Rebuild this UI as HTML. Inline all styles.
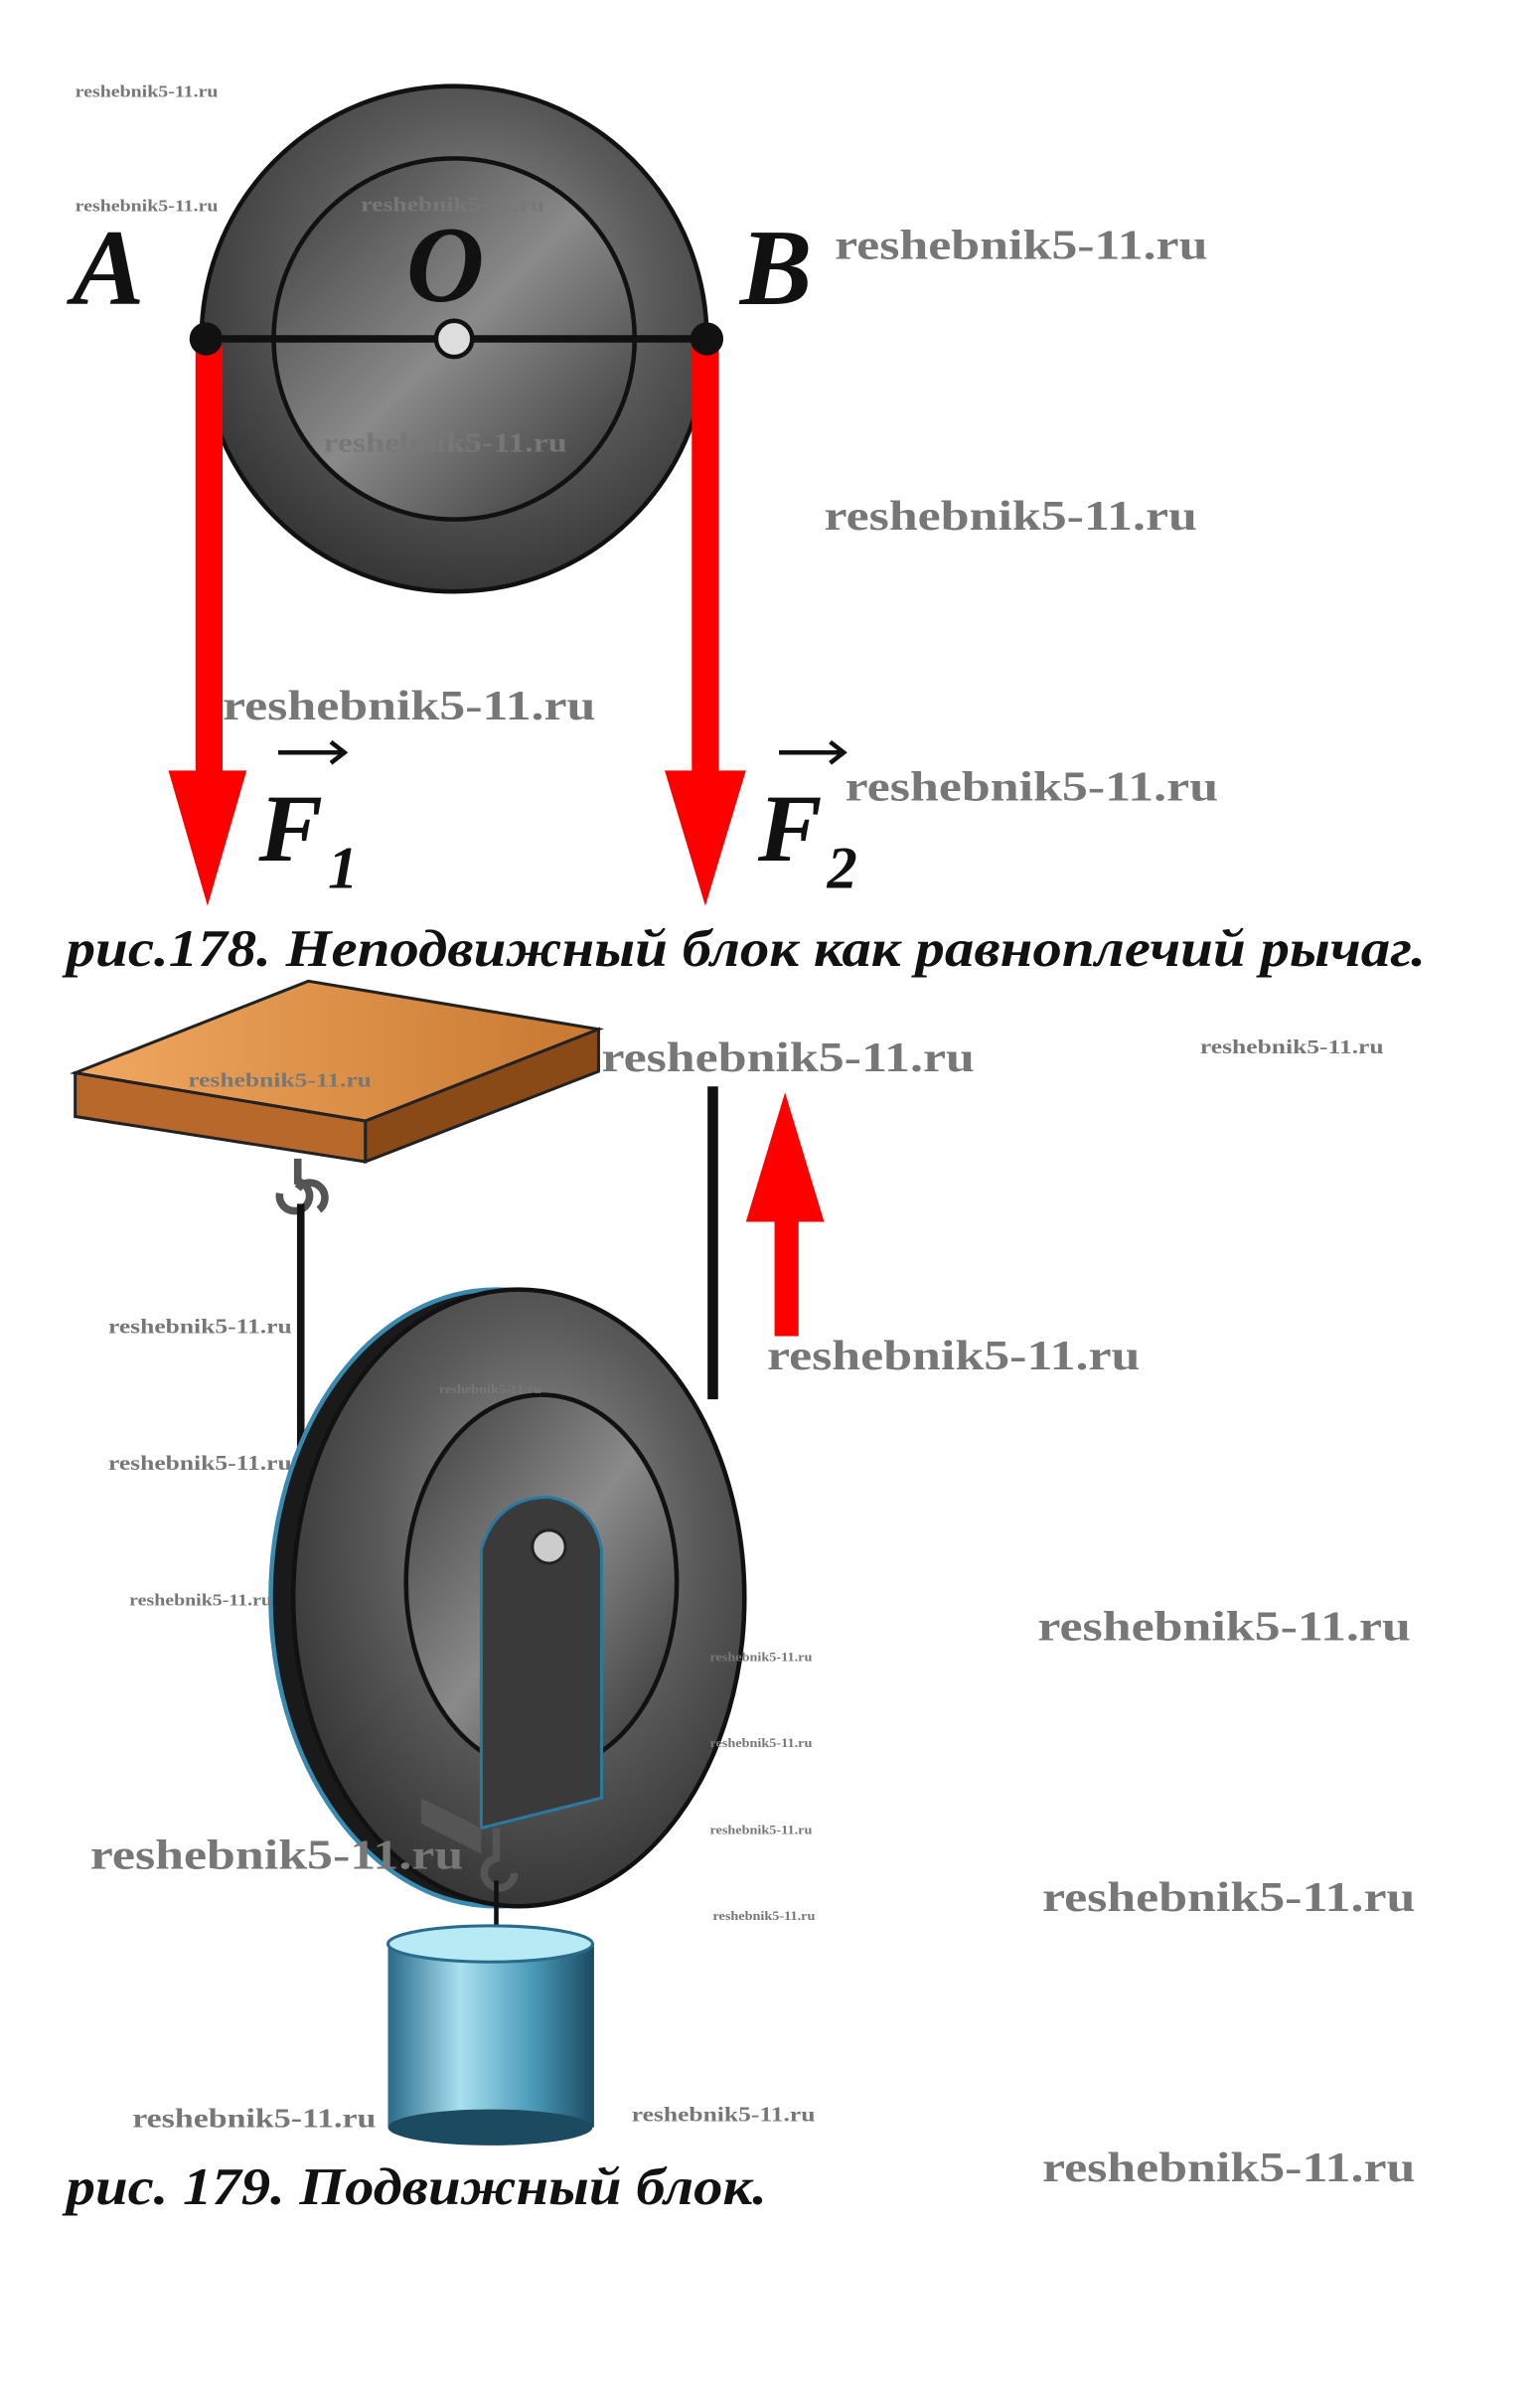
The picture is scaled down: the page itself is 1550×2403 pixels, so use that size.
<!DOCTYPE html>
<html><head><meta charset="utf-8"><style>
html,body{margin:0;padding:0;background:#fff}
svg{display:block}
.wm{font-family:"Liberation Serif",serif;font-weight:bold;fill:#777;}
.lbl{font-family:"Liberation Serif",serif;font-style:italic;font-weight:bold;fill:#111;}
.cap{font-family:"Liberation Serif","Noto Serif CJK SC",serif;font-style:italic;font-weight:bold;fill:#111;}
</style></head><body>
<svg width="1550" height="2403" viewBox="0 0 1024 1587" xmlns="http://www.w3.org/2000/svg">
<defs>
<radialGradient id="g1" cx="0.55" cy="0.4" r="0.7">
<stop offset="0" stop-color="#9a9a9a"/><stop offset="0.5" stop-color="#5a5a5a"/><stop offset="1" stop-color="#2a2a2a"/></radialGradient>
<linearGradient id="g2" x1="0" x2="1" y1="0" y2="1">
<stop offset="0" stop-color="#3a3a3a"/><stop offset="0.5" stop-color="#8a8a8a"/><stop offset="1" stop-color="#2e2e2e"/></linearGradient>
<linearGradient id="wood" x1="0" x2="1"><stop offset="0" stop-color="#f0a860"/><stop offset="1" stop-color="#c87830"/></linearGradient>
<linearGradient id="cyl" x1="0" x2="1"><stop offset="0" stop-color="#2a6a8a"/><stop offset="0.35" stop-color="#a8e0f0"/><stop offset="0.7" stop-color="#4a9ab8"/><stop offset="1" stop-color="#1c4a60"/></linearGradient>
</defs>
<circle cx="302" cy="225" r="168" fill="url(#g1)" stroke="#111" stroke-width="3"/>
<circle cx="302" cy="225" r="120" fill="url(#g2)" stroke="#111" stroke-width="3"/>
<line x1="136" y1="225" x2="470" y2="225" stroke="#111" stroke-width="5"/>
<circle cx="302" cy="225" r="12" fill="#ddd" stroke="#111" stroke-width="3"/>
<rect x="130" y="225" width="18" height="290" fill="#f00"/>
<polygon points="112,512 164,512 138,602" fill="#f00"/>
<rect x="460" y="225" width="18" height="290" fill="#f00"/>
<polygon points="442,512 496,512 469,602" fill="#f00"/>
<circle cx="137" cy="225" r="11" fill="#111"/>
<circle cx="470" cy="225" r="11" fill="#111"/>
<text class="lbl" x="48" y="202" font-size="72">A</text>
<text class="lbl" x="270" y="200" font-size="72">O</text>
<text class="lbl" x="492" y="202" font-size="72">B</text>
<text class="lbl" x="172" y="572" font-size="64">F</text><text class="lbl" x="218" y="590" font-size="40" font-style="normal">1</text>
<text class="lbl" x="504" y="572" font-size="64">F</text><text class="lbl" x="550" y="590" font-size="40" font-style="normal">2</text>
<path d="M185 500 H228 M220 493 L229 500 L220 507" stroke="#111" stroke-width="3" fill="none"/>
<path d="M518 500 H560 M552 493 L561 500 L552 507" stroke="#111" stroke-width="3" fill="none"/>
<text class="cap" x="44" y="642" font-size="35" textLength="904" lengthAdjust="spacingAndGlyphs">рис.178. Неподвижный блок как равноплечий рычаг.</text>
<polygon points="50,713 205,652 398,684 243,745" fill="url(#wood)" stroke="#222" stroke-width="2"/>
<polygon points="50,713 243,745 243,772 50,742" fill="#b8682a" stroke="#222" stroke-width="2"/>
<polygon points="243,745 398,684 398,712 243,772" fill="#8a4a18" stroke="#222" stroke-width="2"/>
<path d="M198 770 v15 a10 10 0 1 1 -12 8 M198 790 a10 10 0 1 1 14 14" stroke="#555" stroke-width="5" fill="none"/>
<line x1="200" y1="800" x2="200" y2="1080" stroke="#111" stroke-width="5"/>
<line x1="474" y1="722" x2="474" y2="930" stroke="#111" stroke-width="7"/>
<rect x="515" y="808" width="16" height="80" fill="#f00"/>
<polygon points="496,812 548,812 522,726" fill="#f00"/>
<ellipse cx="330" cy="1062" rx="150" ry="205" fill="#1a1a1a" stroke="#3a8ab0" stroke-width="3"/>
<ellipse cx="345" cy="1062" rx="150" ry="205" fill="url(#g1)" stroke="#111" stroke-width="3"/>
<ellipse cx="360" cy="1052" rx="90" ry="125" fill="url(#g2)" stroke="#111" stroke-width="3"/>
<path d="M320 1030 Q330 995 365 995 Q395 1000 400 1030 L400 1195 L320 1215 Z" fill="#3a3a3a" stroke="#2a7aa0" stroke-width="2"/>
<polygon points="280,1195 320,1215 320,1232 280,1212" fill="#555"/>
<circle cx="365" cy="1028" r="11" fill="#ccc" stroke="#222" stroke-width="2"/>
<path d="M330 1215 v20 a10 10 0 1 0 12 10" stroke="#555" stroke-width="5" fill="none"/>
<line x1="330" y1="1250" x2="330" y2="1292" stroke="#111" stroke-width="3"/>
<rect x="258" y="1292" width="137" height="122" fill="url(#cyl)"/>
<ellipse cx="326" cy="1414" rx="68" ry="12" fill="#1c4a60"/>
<ellipse cx="326" cy="1292" rx="68" ry="12" fill="#b8eaf6" stroke="#2a6a8a" stroke-width="2"/>
<text class="cap" x="44" y="1465" font-size="35" textLength="466" lengthAdjust="spacingAndGlyphs">рис. 179. Подвижный блок.</text>
<g lengthAdjust="spacingAndGlyphs">
<text class="wm" x="50" y="64" font-size="11" textLength="95" lengthAdjust="spacingAndGlyphs">reshebnik5-11.ru</text>
<text class="wm" x="50" y="140" font-size="11" textLength="95" lengthAdjust="spacingAndGlyphs">reshebnik5-11.ru</text>
<text class="wm" x="240" y="140" font-size="14" textLength="122" lengthAdjust="spacingAndGlyphs">reshebnik5-11.ru</text>
<text class="wm" x="555" y="172" font-size="28" textLength="248" lengthAdjust="spacingAndGlyphs">reshebnik5-11.ru</text>
<text class="wm" x="215" y="300" font-size="18" textLength="162" lengthAdjust="spacingAndGlyphs">reshebnik5-11.ru</text>
<text class="wm" x="548" y="352" font-size="28" textLength="248" lengthAdjust="spacingAndGlyphs">reshebnik5-11.ru</text>
<text class="wm" x="148" y="478" font-size="28" textLength="248" lengthAdjust="spacingAndGlyphs">reshebnik5-11.ru</text>
<text class="wm" x="562" y="532" font-size="28" textLength="248" lengthAdjust="spacingAndGlyphs">reshebnik5-11.ru</text>
<text class="wm" x="400" y="712" font-size="28" textLength="248" lengthAdjust="spacingAndGlyphs">reshebnik5-11.ru</text>
<text class="wm" x="798" y="700" font-size="13" textLength="122" lengthAdjust="spacingAndGlyphs">reshebnik5-11.ru</text>
<text class="wm" x="125" y="722" font-size="13" textLength="122" lengthAdjust="spacingAndGlyphs">reshebnik5-11.ru</text>
<text class="wm" x="72" y="886" font-size="14" textLength="122" lengthAdjust="spacingAndGlyphs">reshebnik5-11.ru</text>
<text class="wm" x="510" y="910" font-size="28" textLength="248" lengthAdjust="spacingAndGlyphs">reshebnik5-11.ru</text>
<text class="wm" x="292" y="926" font-size="8" textLength="68" lengthAdjust="spacingAndGlyphs">reshebnik5-11.ru</text>
<text class="wm" x="72" y="977" font-size="14" textLength="122" lengthAdjust="spacingAndGlyphs">reshebnik5-11.ru</text>
<text class="wm" x="86" y="1067" font-size="11" textLength="95" lengthAdjust="spacingAndGlyphs">reshebnik5-11.ru</text>
<text class="wm" x="690" y="1090" font-size="28" textLength="248" lengthAdjust="spacingAndGlyphs">reshebnik5-11.ru</text>
<text class="wm" x="472" y="1104" font-size="8" textLength="68" lengthAdjust="spacingAndGlyphs">reshebnik5-11.ru</text>
<text class="wm" x="472" y="1161" font-size="8" textLength="68" lengthAdjust="spacingAndGlyphs">reshebnik5-11.ru</text>
<text class="wm" x="472" y="1219" font-size="8" textLength="68" lengthAdjust="spacingAndGlyphs">reshebnik5-11.ru</text>
<text class="wm" x="474" y="1276" font-size="8" textLength="68" lengthAdjust="spacingAndGlyphs">reshebnik5-11.ru</text>
<text class="wm" x="60" y="1242" font-size="28" textLength="248" lengthAdjust="spacingAndGlyphs">reshebnik5-11.ru</text>
<text class="wm" x="693" y="1270" font-size="28" textLength="248" lengthAdjust="spacingAndGlyphs">reshebnik5-11.ru</text>
<text class="wm" x="88" y="1414" font-size="18" textLength="162" lengthAdjust="spacingAndGlyphs">reshebnik5-11.ru</text>
<text class="wm" x="420" y="1410" font-size="14" textLength="122" lengthAdjust="spacingAndGlyphs">reshebnik5-11.ru</text>
<text class="wm" x="693" y="1450" font-size="28" textLength="248" lengthAdjust="spacingAndGlyphs">reshebnik5-11.ru</text>
</g>
</svg>
</body></html>
